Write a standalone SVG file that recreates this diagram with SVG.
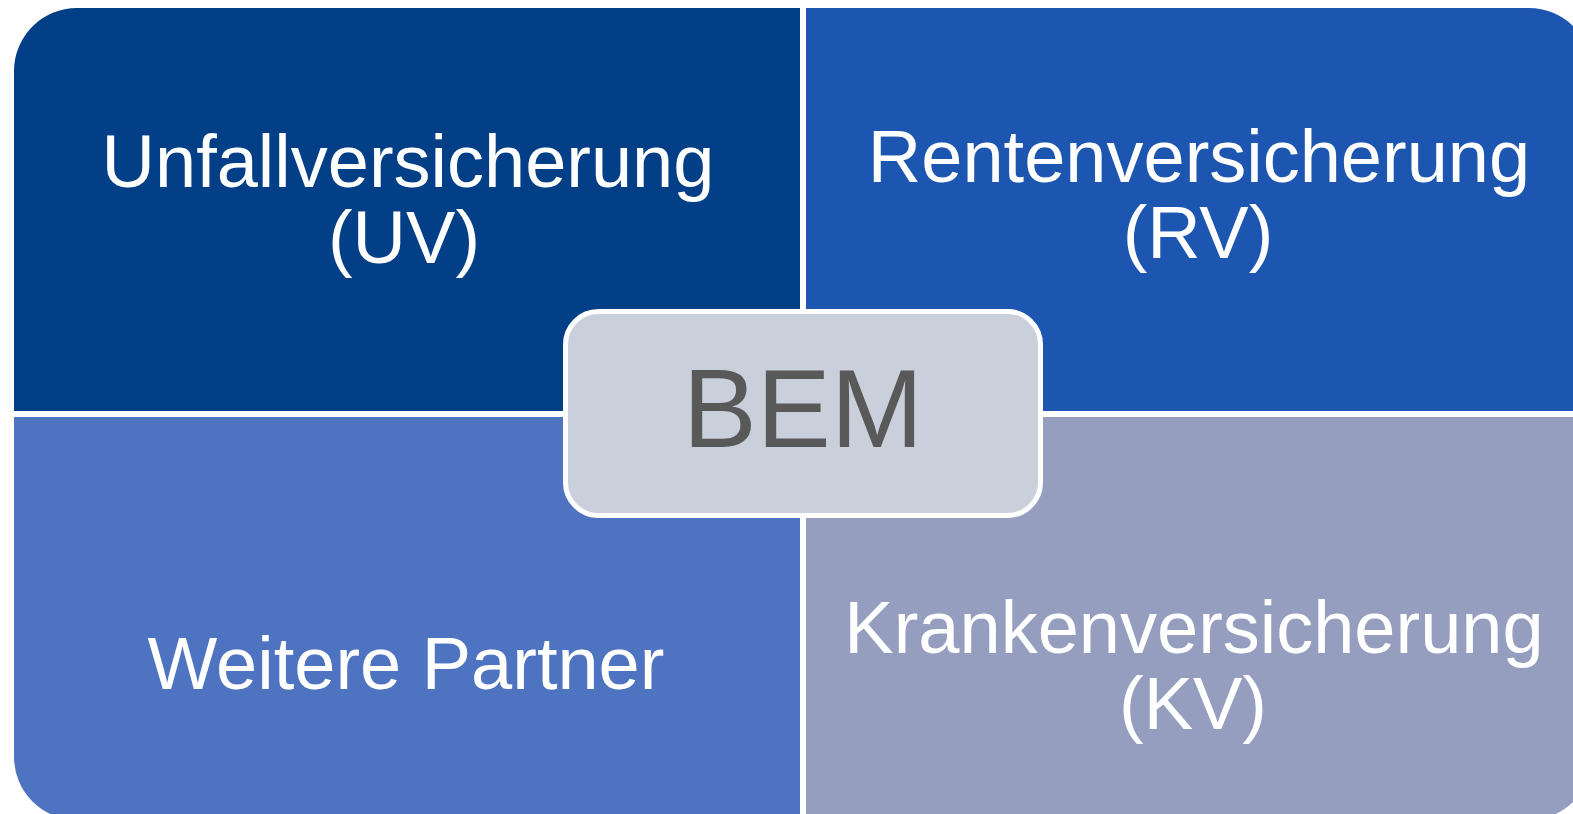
<svg xmlns="http://www.w3.org/2000/svg" width="1573" height="814" viewBox="0 0 1573 814">
  <style>
    .label { font-family: "Liberation Sans", Arial, sans-serif; font-size: 74px; fill: #ffffff; text-anchor: middle; }
    .core { font-family: "Liberation Sans", Arial, sans-serif; font-size: 111px; fill: #595959; text-anchor: middle; }
  </style>
  <rect width="1573" height="814" fill="#ffffff"/>

  <!-- four quadrants, each rounded only at its outer corner -->
  <g id="uv">
    <path d="M14,411 V71 A63,63 0 0 1 77,8 H800 V411 Z" fill="#023F86"/>
    <text class="label" x="408" y="187">Unfallversicherung</text>
    <text class="label" x="404" y="263">(UV)</text>
  </g>
  <g id="rv">
    <path d="M806,8 H1529 A63,63 0 0 1 1592,71 V411 H806 Z" fill="#1C56B0"/>
    <text class="label" x="1199" y="182">Rentenversicherung</text>
    <text class="label" x="1198" y="258">(RV)</text>
  </g>
  <g id="partner">
    <path d="M14,417 H800 V820 H77 A63,63 0 0 1 14,757 Z" fill="#4E74C1"/>
    <text class="label" x="406" y="689">Weitere Partner</text>
  </g>
  <g id="kv">
    <path d="M806,417 H1592 V757 A63,63 0 0 1 1529,820 H806 Z" fill="#959EBE"/>
    <text class="label" x="1194" y="653">Krankenversicherung</text>
    <text class="label" x="1193" y="729">(KV)</text>
  </g>

  <!-- central box -->
  <g id="bem">
    <rect x="565.5" y="311.5" width="475" height="204" rx="33" ry="33" fill="#CACFDC" stroke="#ffffff" stroke-width="5"/>
    <text class="core" x="803" y="447">BEM</text>
  </g>

  <g id="connectors"/>
</svg>
